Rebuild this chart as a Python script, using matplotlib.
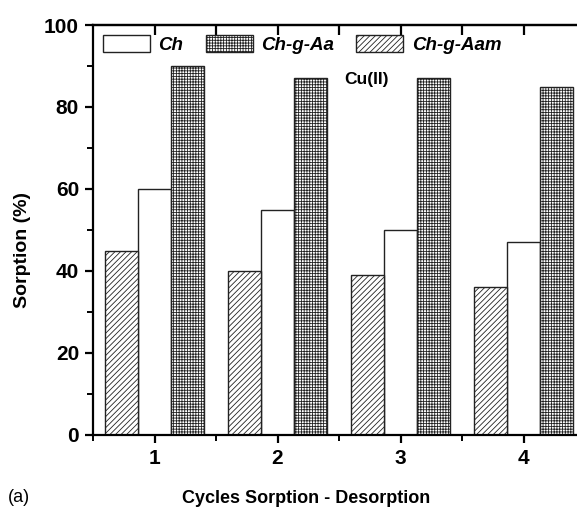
import matplotlib
matplotlib.use("Agg")
import matplotlib.pyplot as plt
import numpy as np
from matplotlib.ticker import MultipleLocator

plt.rcParams['font.family'] = ['Liberation Sans', 'DejaVu Sans']
plt.rcParams['font.weight'] = 'bold'
plt.rcParams['hatch.linewidth'] = 0.6
plt.rcParams['hatch.color'] = '#333333'

# sorption data, 4 sorption/desorption cycles
cycles = [1, 2, 3, 4]
ch = [60, 55, 50, 47]
ch_g_aa = [90, 87, 87, 85]
ch_g_aam = [45, 40, 39, 36]

fig = plt.figure(figsize=(5.77, 5.09), dpi=100)
# right edge of the axes runs slightly past the figure
ax = fig.add_axes([93 / 577, 74 / 509, 492 / 577, 410 / 509])

x = np.array(cycles, dtype=float)
w = 0.27
ax.bar(x, ch, w, color='white', edgecolor='#222222', linewidth=1.0, label='Ch')
ax.bar(x + w, ch_g_aa, w, color='white', edgecolor='#222222', linewidth=1.0,
       hatch='++++++', label='Ch-g-Aa')
ax.bar(x - w, ch_g_aam, w, color='white', edgecolor='#222222', linewidth=1.0,
       hatch='//////', label='Ch-g-Aam')

ax.set_xlim(0.5, 4.5)
ax.set_ylim(0, 100)
ax.set_xticks(cycles)
ax.xaxis.set_minor_locator(MultipleLocator(0.5))
ax.yaxis.set_major_locator(MultipleLocator(20))
ax.yaxis.set_minor_locator(MultipleLocator(10))

for s in ax.spines.values():
    s.set_linewidth(1.6)

ax.tick_params(axis='both', which='major', direction='out', length=6, width=1.6,
               labelsize=15, pad=4)
ax.tick_params(axis='both', which='minor', direction='out', length=4, width=1.4)

# top and right ticks point inward
top = ax.secondary_xaxis('top')
top.set_xticks(np.arange(1, 4.6, 0.5))
top.tick_params(direction='in', length=7, width=1.6, labeltop=False)
top.spines['top'].set_linewidth(1.6)
right = ax.secondary_yaxis('right')
right.set_yticks(np.arange(0, 101, 20))
right.tick_params(direction='in', length=5, width=1.6, labelright=False)

ax.set_xlabel('Cycles Sorption - Desorption', fontsize=13, fontweight='bold')
ax.xaxis.set_label_coords(0.433, -0.133)
ax.set_ylabel('Sorption (%)', fontsize=14, fontweight='bold')
ax.yaxis.set_label_coords(-0.125, 0.45)

fig.text(8 / 577, 1 - 497 / 509, '(a)', fontsize=13, fontweight='normal',
         va='center', ha='left')

ax.text(2.72, 86.6, 'Cu(II)', fontsize=12.5, fontweight='bold',
        ha='center', va='center')

leg = ax.legend(loc='upper left', bbox_to_anchor=(0.02, 0.976), ncol=3,
                frameon=False, borderpad=0, borderaxespad=0,
                handlelength=2.5, handleheight=1.0, handletextpad=0.45,
                columnspacing=1.2, prop={'size': 13.5, 'weight': 'bold',
                                         'style': 'italic'})

fig.savefig('out.png', dpi=100)
